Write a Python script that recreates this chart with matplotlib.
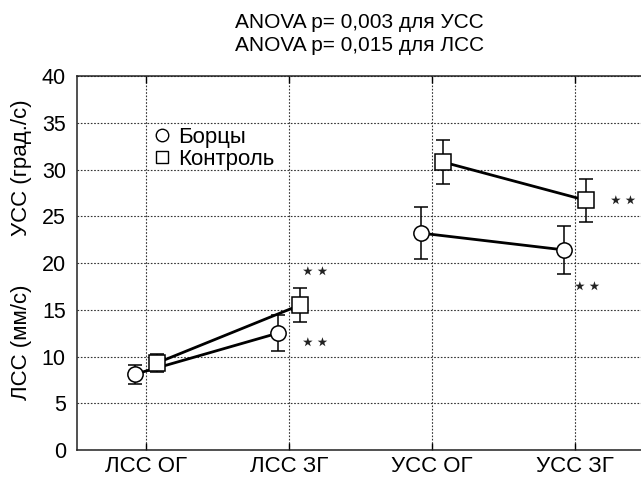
import numpy as np
import matplotlib
matplotlib.use("Agg")
import matplotlib.pyplot as plt
from matplotlib.lines import Line2D

plt.rcParams['font.family'] = ['Liberation Sans', 'DejaVu Sans']

categories = ["ЛСС ОГ", "ЛСС ЗГ", "УСС ОГ", "УСС ЗГ"]
bortsy = [8.1, 12.5, 23.2, 21.4]
bortsy_err = [1.0, 1.9, 2.8, 2.6]
kontrol = [9.3, 15.5, 30.8, 26.7]
kontrol_err = [1.0, 1.8, 2.4, 2.3]
# звездочки значимости (x, y)
stars = [(1.08, 11.4), (1.08, 19.0), (3.23, 26.6), (2.98, 17.4)]

fig = plt.figure(figsize=(6.41, 4.79), dpi=100)
ax = fig.add_axes([0.1201, 0.0605, 0.8799, 0.7808])

x = np.arange(len(categories))
off = 0.077
style = dict(color="black", lw=2.0, elinewidth=1.1, capsize=5, capthick=1.1,
             markersize=11, markerfacecolor="white", markeredgecolor="black",
             markeredgewidth=1.1, zorder=3)

for seg in (slice(0, 2), slice(2, 4)):
    ax.errorbar(x[seg] - off, bortsy[seg], yerr=bortsy_err[seg], marker="o", **style)
    ax.errorbar(x[seg] + off, kontrol[seg], yerr=kontrol_err[seg], marker="s", **style)

for sx, sy in stars:
    ax.text(sx, sy, "\u22c6\u22c6", fontsize=18, family="DejaVu Sans",
            ha="left", va="center", color="#222222")

ax.set_xlim(-0.48, 3.46)
ax.set_ylim(0, 40)
ax.set_xticks(x)
ax.set_xticklabels(categories, fontsize=16)
ax.set_yticks(np.arange(0, 41, 5))
ax.tick_params(axis="y", length=0, pad=8, labelsize=15.5)
ax.tick_params(axis="x", direction="in", length=5, top=True, pad=4, width=1.0)
ax.grid(True, linestyle=(0, (1.5, 1.5)), color="#333333", lw=0.8)
ax.spines["right"].set_visible(False)
for s in ("left", "top", "bottom"):
    ax.spines[s].set_linewidth(1.1)
    ax.spines[s].set_color("#222222")

handles = [
    Line2D([], [], marker="o", ls="none", markersize=9, markerfacecolor="white",
           markeredgecolor="black", markeredgewidth=1.0),
    Line2D([], [], marker="s", ls="none", markersize=8.5, markerfacecolor="white",
           markeredgecolor="black", markeredgewidth=1.0),
]
ax.legend(handles, ["Борцы", "Контроль"], loc="upper left",
          bbox_to_anchor=(0.116, 0.893), frameon=False, fontsize=16,
          handletextpad=0.3, handlelength=0.8, labelspacing=0.05, borderpad=0)

fig.text(0.561, 0.952, "ANOVA p= 0,003 для УСС", ha="center", va="center", fontsize=15)
fig.text(0.561, 0.905, "ANOVA p= 0,015 для ЛСС", ha="center", va="center", fontsize=15)

fig.text(0.033, 0.649, "УСС (град./с)", rotation=90, ha="center", va="center", fontsize=16)
fig.text(0.033, 0.286, "ЛСС (мм/с)", rotation=90, ha="center", va="center", fontsize=16)

fig.savefig("out.png", dpi=100)
